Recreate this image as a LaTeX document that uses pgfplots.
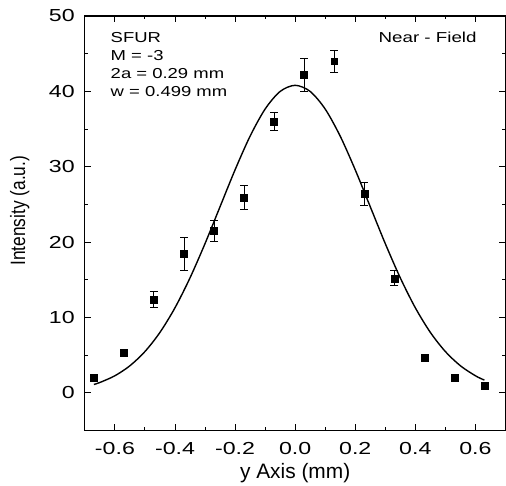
\documentclass[border=0pt]{standalone}
\usepackage{pgfplots}
\pgfplotsset{compat=1.18}
\usepackage{fontspec}
\setmainfont{Liberation Sans}
\usetikzlibrary{calc}
\begin{document}
\begin{tikzpicture}
\begin{axis}[name=ax, width=421bp, height=415bp, scale only axis,
  xmin=-0.7, xmax=0.7, ymin=-5, ymax=50,
  xtick={-0.6,-0.4,-0.2,0,0.2,0.4,0.6}, ytick={0,10,20,30,40,50},
  minor x tick num=1, minor y tick num=1,
  tick align=inside, major tick length=6bp, minor tick length=3.5bp,
  axis line style={line width=1.2bp}, tick style={line width=1bp, black},
  /pgf/number format/assume math mode=true,
  xticklabel={\scalebox{1.33}[1]{\pgfmathprintnumber[fixed,fixed zerofill,precision=1]{\tick}}},
  yticklabel={\scalebox{1.33}[1]{\pgfmathprintnumber{\tick}}},
  xticklabel style={font=\fontsize{17.5}{17.5}\selectfont, inner sep=0pt, anchor=north, yshift=-12bp},
  yticklabel style={font=\fontsize{17.5}{17.5}\selectfont, inner sep=0pt, anchor=east, xshift=-10bp},
  xlabel={y Axis (mm)},
  xlabel style={font=\fontsize{21}{21}\selectfont, at={(axis description cs:0.5,0)}, anchor=base, yshift=-48bp, inner sep=0pt},
  ylabel={\scalebox{1}[1.2]{Intensity (a.u.)}},
  ylabel style={font=\fontsize{17.4}{17.4}\selectfont, at={(axis description cs:-0.155,0.53)}, anchor=center, inner sep=0pt},
  clip=false]
\addplot[black, line width=1.4bp, smooth, no marks] coordinates {
(-0.67,1.109) (-0.65,1.370) (-0.60,2.264) (-0.55,3.593) (-0.50,5.478)
(-0.45,8.022) (-0.40,11.286) (-0.35,15.253) (-0.30,19.802) (-0.25,24.697)
(-0.20,29.589) (-0.15,34.055) (-0.10,37.652) (-0.05,39.988) (0.00,40.800)
(0.05,39.988) (0.10,37.652) (0.15,34.055) (0.20,29.589) (0.25,24.697)
(0.30,19.802) (0.35,15.253) (0.40,11.286) (0.45,8.022) (0.50,5.478)
(0.55,3.593) (0.60,2.264) (0.63,1.683)};
\addplot[black, only marks, mark=square*, mark size=3.5bp,
  error bars/.cd, y dir=both, y explicit,
  error bar style={line width=1bp, black},
  error mark options={rotate=90, mark size=4bp, line width=1bp, black}]
  coordinates {
(-0.47,12.4) +- (0,1.1)
(-0.37,18.4) +- (0,2.2)
(-0.27,21.5) +- (0,1.4)
(-0.17,25.9) +- (0,1.6)
(-0.07,36.0) +- (0,1.2)
(0.03,42.2) +- (0,2.2)
(0.13,44.0) +- (0,1.45)
(0.23,26.4) +- (0,1.5)
(0.33,15.2) +- (0,1.0)};
\addplot[black, only marks, mark=square*, mark size=3.5bp] coordinates {
(-0.67,2.0) (-0.57,5.3) (0.43,4.6) (0.53,2.0) (0.63,0.9)};
\node[anchor=base west, inner sep=0pt, font=\fontsize{14.5}{14.5}\selectfont] at (axis description cs:0.061,0.9365) {\scalebox{1.28}[1]{SFUR}};
\node[anchor=base west, inner sep=0pt, font=\fontsize{14.5}{14.5}\selectfont] at (axis description cs:0.061,0.892) {\scalebox{1.28}[1]{M = -3}};
\node[anchor=base west, inner sep=0pt, font=\fontsize{14.5}{14.5}\selectfont] at (axis description cs:0.061,0.848) {\scalebox{1.28}[1]{2a = 0.29 mm}};
\node[anchor=base west, inner sep=0pt, font=\fontsize{14.5}{14.5}\selectfont] at (axis description cs:0.061,0.805) {\scalebox{1.28}[1]{w = 0.499 mm}};
\node[anchor=base west, inner sep=0pt, font=\fontsize{14.5}{14.5}\selectfont] at (axis description cs:0.698,0.935) {\scalebox{1.3}[1]{Near - Field}};
\end{axis}
\path ($(ax.south west)+(-85bp,-55bp)$) rectangle ($(ax.north east)+(0bp,16bp)$);
\end{tikzpicture}
\end{document}
